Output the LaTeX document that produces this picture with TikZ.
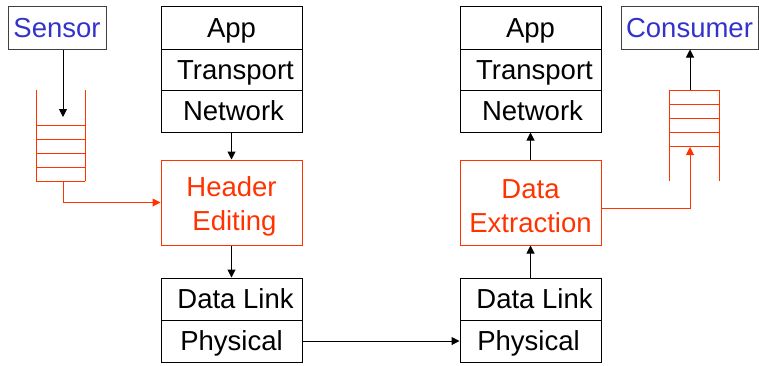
\documentclass[tikz,border=0pt]{standalone}
\usepackage{fontspec}
\setmainfont{Liberation Sans}
\usetikzlibrary{arrows.meta}
\definecolor{myred}{RGB}{255,51,0}
\definecolor{myblue}{RGB}{51,51,204}
\definecolor{mygray}{RGB}{64,64,64}
\newcommand\lblfont{\fontsize{27.5}{34}\selectfont}
\tikzset{
  layer/.style={draw=black, line width=1pt, minimum width=141pt, inner sep=0pt, font=\lblfont, text height=19.5pt, text depth=0pt},
  endpt/.style={draw=mygray, line width=1pt, inner sep=0pt, font=\lblfont, text=myblue, text height=19.5pt, text depth=0pt},
  procbox/.style={draw=myred, line width=1pt, minimum width=141pt, minimum height=85pt},
  proctext/.style={text=myred, font=\lblfont, align=center, inner sep=0pt},
  arr/.style={draw=black, line width=1pt, -{Triangle[length=8pt,width=8pt]}},
  rarr/.style={draw=myred, line width=1pt, -{Triangle[length=8pt,width=8pt]}},
  queue/.style={draw=myred, line width=1pt}
}
\begin{document}
\begin{tikzpicture}[x=1pt,y=-1pt]
\useasboundingbox (0,0) rectangle (759,365);
% endpoints
\node[endpt, minimum width=98pt, minimum height=43pt] (sensor) at (57,27.5) {Sensor};
\node[endpt, minimum width=137pt, minimum height=43pt] (consumer) at (689.5,27.5) {Consumer};
% left stack
\node[layer, minimum height=43pt] (lapp) at (231.5,27.5) {App};
\node[layer, minimum height=41pt] (ltr) at (231.5,69.5) {\hspace{8pt}Transport};
\node[layer, minimum height=42pt] (lnet) at (231.5,111) {\hspace{4pt}Network};
\node[procbox] (hdr) at (231.5,202.5) {};
\node[proctext] (hdrt) at ([yshift=-4pt]hdr.center) {Header\\\hspace{6pt}Editing};
\node[layer, minimum height=42pt] (ldl) at (231.5,299) {\hspace{8pt}Data Link};
\node[layer, minimum height=42pt] (lphy) at (231.5,341) {Physical};
% right stack
\node[layer, minimum height=43pt] (rapp) at (530.5,27.5) {App};
\node[layer, minimum height=41pt] (rtr) at (530.5,69.5) {\hspace{8pt}Transport};
\node[layer, minimum height=42pt] (rnet) at (530.5,111) {\hspace{4pt}Network};
\node[procbox] (rdx) at (530.5,202.5) {};
\node[proctext] (rdxt) at ([yshift=-4pt]rdx.center) {Data\\Extraction};
\node[layer, minimum height=42pt] (rdl) at (530.5,299) {\hspace{8pt}Data Link};
\node[layer, minimum height=42pt] (rphy) at (530.5,341) {\hspace{-4pt}Physical};
% left queue
\draw[queue] (36,90) -- (36,181) (85,90) -- (85,181);
\foreach \yy in {125,139,153,167,181} \draw[queue] (36,\yy) -- (85,\yy);
\coordinate (q1in) at (63,117);
\coordinate (q1out) at (63,181);
% right queue
\draw[queue] (669,90) -- (669,181) (719,90) -- (719,181);
\foreach \yy in {90,104,118,132,146} \draw[queue] (669,\yy) -- (719,\yy);
\coordinate (q2in) at (690,147);
\coordinate (q2top) at (690,90);
% connectors
\draw[arr] (sensor.south -| q1in) -- (q1in);
\draw[rarr] (q1out) |- (hdr.west);
\draw[arr] (lnet.south) -- (hdr.north);
\draw[arr] (hdr.south) -- (ldl.north);
\draw[arr] (lphy.east) -- (rphy.west);
\draw[arr] (rdl.north) -- (rdx.south);
\draw[arr] (rdx.north) -- (rnet.south);
\draw[rarr] ([yshift=-6pt]rdx.east) -| (q2in);
\draw[arr] (q2top) -- (q2top |- consumer.south);
\end{tikzpicture}
\end{document}
